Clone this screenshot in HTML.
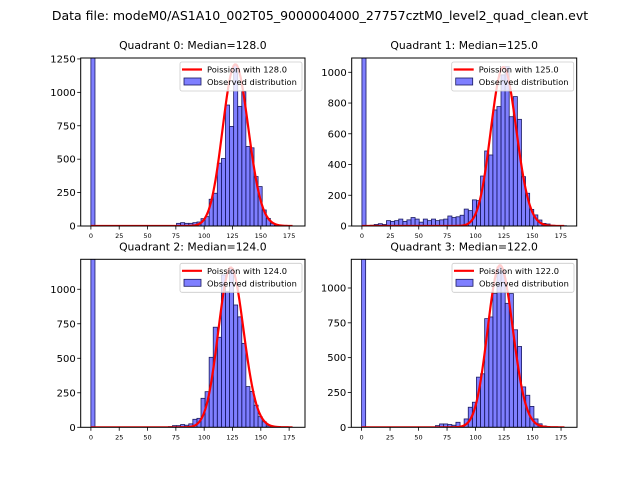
<!DOCTYPE html>
<html><head><meta charset="utf-8"><style>
body{margin:0;background:#fff;}
svg{display:block;font-family:"DejaVu Sans","Liberation Sans",sans-serif;}
</style></head><body>
<svg id="fig" width="640" height="480" viewBox="0 0 640 480">
<text x="320" y="20" text-anchor="middle" font-size="12.5">Data file: modeM0/AS1A10_002T05_9000004000_27757cztM0_level2_quad_clean.evt</text>
</svg>
<script>
const binWidth = 3.6;
const medians = [128.0, 125.0, 124.0, 122.0];
const fitScale = [34300, 29000, 32300, 32200];
const q0Counts = {0:5000,21:20,22:25,23:20,24:20,25:25,26:30,27:55,28:70,29:200,30:245,31:470,32:505,33:905,34:745,35:1205,36:895,37:1005,38:595,39:585,40:370,41:295,42:120,43:57,44:20,45:5};
const q1Counts = {0:5000,2:5,3:10,4:15,5:10,6:35,7:30,8:35,9:45,10:30,11:40,12:55,13:45,14:25,15:45,16:35,17:45,18:35,19:40,20:45,21:65,22:55,23:60,24:70,25:110,26:100,27:170,28:165,29:325,30:488,31:462,32:755,33:777,34:983,35:1037,36:711,37:842,38:694,39:321,40:213,41:108,42:72,43:39,44:17,45:13,46:5,47:3,48:2,49:2};
const q2Counts = {0:5000,19:5,20:12,21:12,22:20,23:15,24:25,25:58,26:65,27:210,28:258,29:507,30:725,31:652,32:1104,33:983,34:1150,35:886,36:800,37:608,38:295,39:260,40:160,41:77,42:40,43:10,44:3};
const q3Counts = {0:5000,18:12,19:24,20:24,21:20,22:15,23:36,24:10,25:60,26:144,27:180,28:360,29:384,30:780,31:792,32:960,33:1150,34:1120,35:890,36:960,37:700,38:580,39:290,40:230,41:150,42:60,43:25,44:10};
const yTicks = [[0,250,500,750,1000,1250],[0,200,400,600,800,1000],[0,250,500,750,1000],[0,250,500,750,1000]];
const xTicks = [0,25,50,75,100,125,150,175];
const yMax = [1257,1093,1217,1206];
const allCounts = [q0Counts,q1Counts,q2Counts,q3Counts];
const boxes = [[80.7,58,305,226],[351.7,58,576.7,226],[80.7,259.3,305,427.3],[351.3,259.3,577,427.3]];
const xMin=-9, xMax=189;
const NS="http://www.w3.org/2000/svg";
const fig=document.getElementById('fig');
function mk(tag,attrs,parent){const e=document.createElementNS(NS,tag);for(const k in attrs)e.setAttribute(k,attrs[k]);(parent||fig).appendChild(e);return e;}
function lgamma(n){
  if(n<2)return 0;return n*Math.log(n)-n+0.5*Math.log(2*Math.PI*n)+1/(12*n)-1/(360*n*n*n);}
for(let q=0;q<4;q++){
  const [L,T,R,B]=boxes[q];
  const g=mk('g',{});
  
  
  const sx=v=>L+(v-xMin)/(xMax-xMin)*(R-L);
  const sy=v=>B-v/yMax[q]*(B-T);
  const cid='clip'+q;
  const cp=mk('clipPath',{id:cid},g);mk('rect',{x:L,y:T,width:R-L,height:B-T},cp);
  const bars=mk('g',{'clip-path':'url(#'+cid+')'},g);
  const c=allCounts[q];
  for(const k in c){
    const x0=sx(k*binWidth),x1=sx((+k+1)*binWidth);
    const r=mk('rect',{x:x0,y:sy(c[k]),width:x1-x0,height:B-sy(c[k]),fill:'rgba(0,0,255,0.5)',stroke:'#1a1a60','stroke-width':0.8},bars);
    
    
  }
  let d='';const lam=medians[q];
  for(let k=0;k<=178;k++){const p=Math.exp(k*Math.log(lam)-lam-lgamma(k))*fitScale[q];d+=(k?'L':'M')+sx(k).toFixed(2)+','+sy(p).toFixed(2);}
  const pl=mk('path',{d:d,fill:'none',stroke:'#ff0000','stroke-width':2.2,'clip-path':'url(#'+cid+')'},g);
  
  
  const fr=mk('rect',{x:L,y:T,width:R-L,height:B-T,fill:'none',stroke:'#000','stroke-width':1},g);
  
  
  xTicks.forEach(t=>{const x=sx(t);mk('line',{x1:x,x2:x,y1:B,y2:B+3.5,stroke:'#000','stroke-width':0.8},g);
    const tx=mk('text',{x:x,y:B+12,'text-anchor':'middle','font-size':6.5},g);tx.textContent=t;
    
    });
  yTicks[q].forEach(t=>{const y=sy(t);mk('line',{x1:L-3.5,x2:L,y1:y,y2:y,stroke:'#000','stroke-width':0.8},g);
    const tx=mk('text',{x:L-5,y:y+3.5,'text-anchor':'end','font-size':10},g);tx.textContent=t;
    
    });
  const ti=mk('text',{x:(L+R)/2,y:T-9,'text-anchor':'middle','font-size':10.8},g);
  ti.textContent='Quadrant '+q+': Median='+medians[q].toFixed(1);
  
  
  const lg=mk('g',{},g);
  
  
  const lx=R-125,ly=T+4;
  mk('rect',{x:lx,y:ly,width:122,height:29,fill:'#fff','fill-opacity':0.8,stroke:'#ccc','stroke-width':0.8,rx:2},lg);
  mk('line',{x1:lx+2,x2:lx+22,y1:ly+7.5,y2:ly+7.5,stroke:'#ff0000','stroke-width':2.2},lg);
  const t1=mk('text',{x:lx+27,y:ly+10.5,'font-size':8.3},lg);t1.textContent='Poission with '+medians[q].toFixed(1);
  
  
  mk('rect',{x:lx+4,y:ly+16,width:17,height:7,fill:'rgba(0,0,255,0.5)',stroke:'#1a1a60','stroke-width':0.8},lg);
  const t2=mk('text',{x:lx+27,y:ly+23,'font-size':8.3},lg);t2.textContent='Observed distribution';
  
  
}
</script>
</body></html>
